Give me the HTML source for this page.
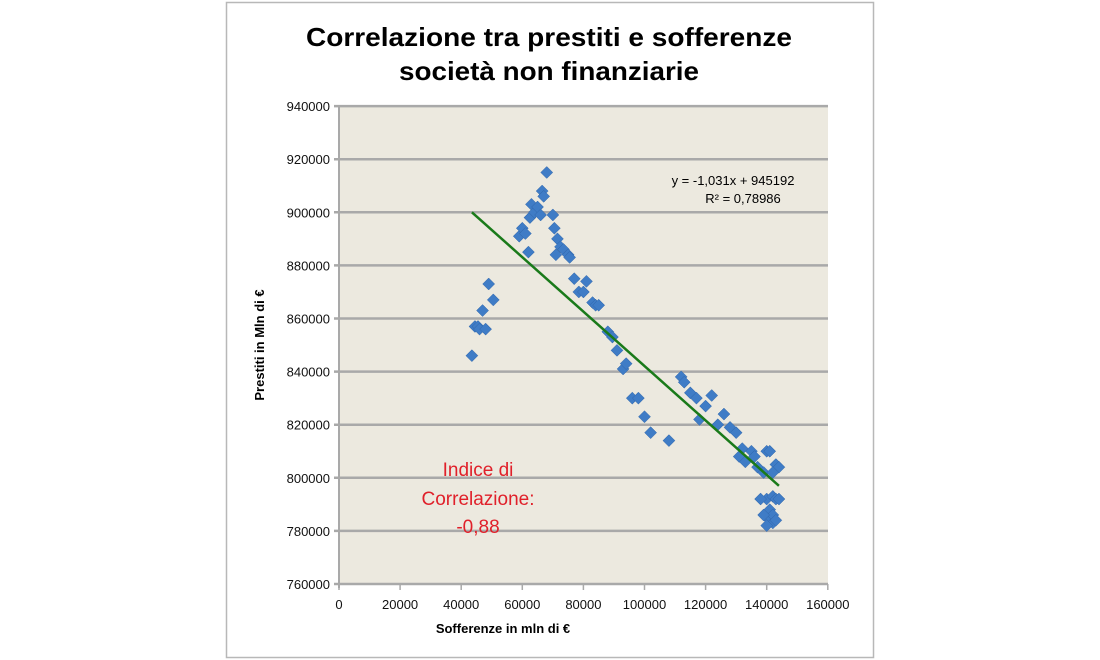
<!DOCTYPE html>
<html><head><meta charset="utf-8"><style>
html,body{margin:0;padding:0;background:#fff;}
svg{display:block;font-family:"Liberation Sans",Arial,sans-serif;}
</style></head><body>
<svg id="s" width="1100" height="660" xmlns="http://www.w3.org/2000/svg">
<rect x="226.5" y="2.5" width="647" height="655" fill="#fff" stroke="#b8b8b8" stroke-width="1.5"/>
<text x="549" y="46" font-size="26" font-weight="bold" text-anchor="middle" textLength="486" lengthAdjust="spacingAndGlyphs">Correlazione tra prestiti e sofferenze</text>
<text x="549" y="80" font-size="26" font-weight="bold" text-anchor="middle" textLength="300" lengthAdjust="spacingAndGlyphs">società non finanziarie</text>
<rect x="339" y="106" width="489" height="478" fill="#ece9df"/>
<g id="grid" stroke="#a9a9a9" stroke-width="2.5"></g>
<g id="ylab" font-size="13" text-anchor="end" fill="#111"></g>
<g id="xlab" font-size="13" text-anchor="middle" fill="#111"></g>
<line x1="339" y1="106" x2="339" y2="588" stroke="#a9a9a9" stroke-width="2"/>
<g id="pts" fill="#3f7cc6" stroke="#2e64a8" stroke-width="0.5"></g>
<line id="trend" stroke="#1a7a1a" stroke-width="2.5"/>
<text x="733" y="185" font-size="13" text-anchor="middle">y = -1,031x + 945192</text>
<text x="743" y="203" font-size="13" text-anchor="middle">R² = 0,78986</text>
<g fill="#e0202a" font-size="19" text-anchor="middle">
<text x="478" y="476">Indice di</text>
<text x="478" y="505">Correlazione:</text>
<text x="478" y="533">-0,88</text>
</g>
<text x="503" y="633" font-size="13" font-weight="bold" text-anchor="middle">Sofferenze in mln di €</text>
<text transform="translate(264,345) rotate(-90)" font-size="13" font-weight="bold" text-anchor="middle">Prestiti in Mln di €</text>
</svg>
<script>
var NS="http://www.w3.org/2000/svg";
function X(v){return 339+v/20000*61.1;}
function Y(v){return 584-(v-760000)/20000*53.1;}
function el(t,a,p){var e=document.createElementNS(NS,t);for(var k in a)e.setAttribute(k,a[k]);p.appendChild(e);return e;}
var g=document.getElementById('grid'),yl=document.getElementById('ylab'),xl=document.getElementById('xlab');
for(var v=760000;v<=940000;v+=20000){var y=Y(v);el('line',{x1:334,x2:828,y1:y,y2:y},g);var t=el('text',{x:330,y:y+5},yl);t.textContent=v;}
for(var v=0;v<=160000;v+=20000){var x=X(v);el('line',{x1:x,x2:x,y1:584,y2:590,'stroke-width':1.5},g);var t=el('text',{x:x,y:609},xl);t.textContent=v;}
var d=[[43.5,846],[44.5,857],[45.5,857],[46,856],[47,863],[48,856],[49,873],[50.5,867],[59,891],[60,894],[61,892],[62,885],[62.5,898],[63,903],[64,900],[65,902],[66,899],[66.5,908],[67,906],[68,915],[70,899],[70.5,894],[71,884],[71.5,890],[72.5,887],[73.5,886],[75,884],[75.5,883],[77,875],[78.5,870],[80,870],[81,874],[83,866],[84,865],[85,865],[88,855],[89.5,853],[91,848],[93,841],[94,843],[96,830],[98,830],[100,823],[102,817],[108,814],[112,838],[113,836],[115,832],[117,830],[118,822],[120,827],[122,831],[124,820],[126,824],[128,819],[130,817],[131,808],[132,811],[133,806],[135,810],[136,808],[137,804],[139,802],[140,810],[141,810],[140,792],[141,788],[141,784],[142,783],[142,793],[142,786],[143,805],[143,792],[144,804],[138,792],[139,786],[140,782],[143,784],[144,792],[142,802]];
var p=document.getElementById('pts');
d.forEach(function(q){var x=X(q[0]*1000),y=Y(q[1]*1000),r=6;el('polygon',{points:(x)+','+(y-r)+' '+(x+r)+','+y+' '+x+','+(y+r)+' '+(x-r)+','+y},p);});
var tl=document.getElementById('trend');tl.setAttribute('x1',X(43500));tl.setAttribute('y1',Y(900000));tl.setAttribute('x2',X(144000));tl.setAttribute('y2',Y(797000));
</script>
</body></html>
